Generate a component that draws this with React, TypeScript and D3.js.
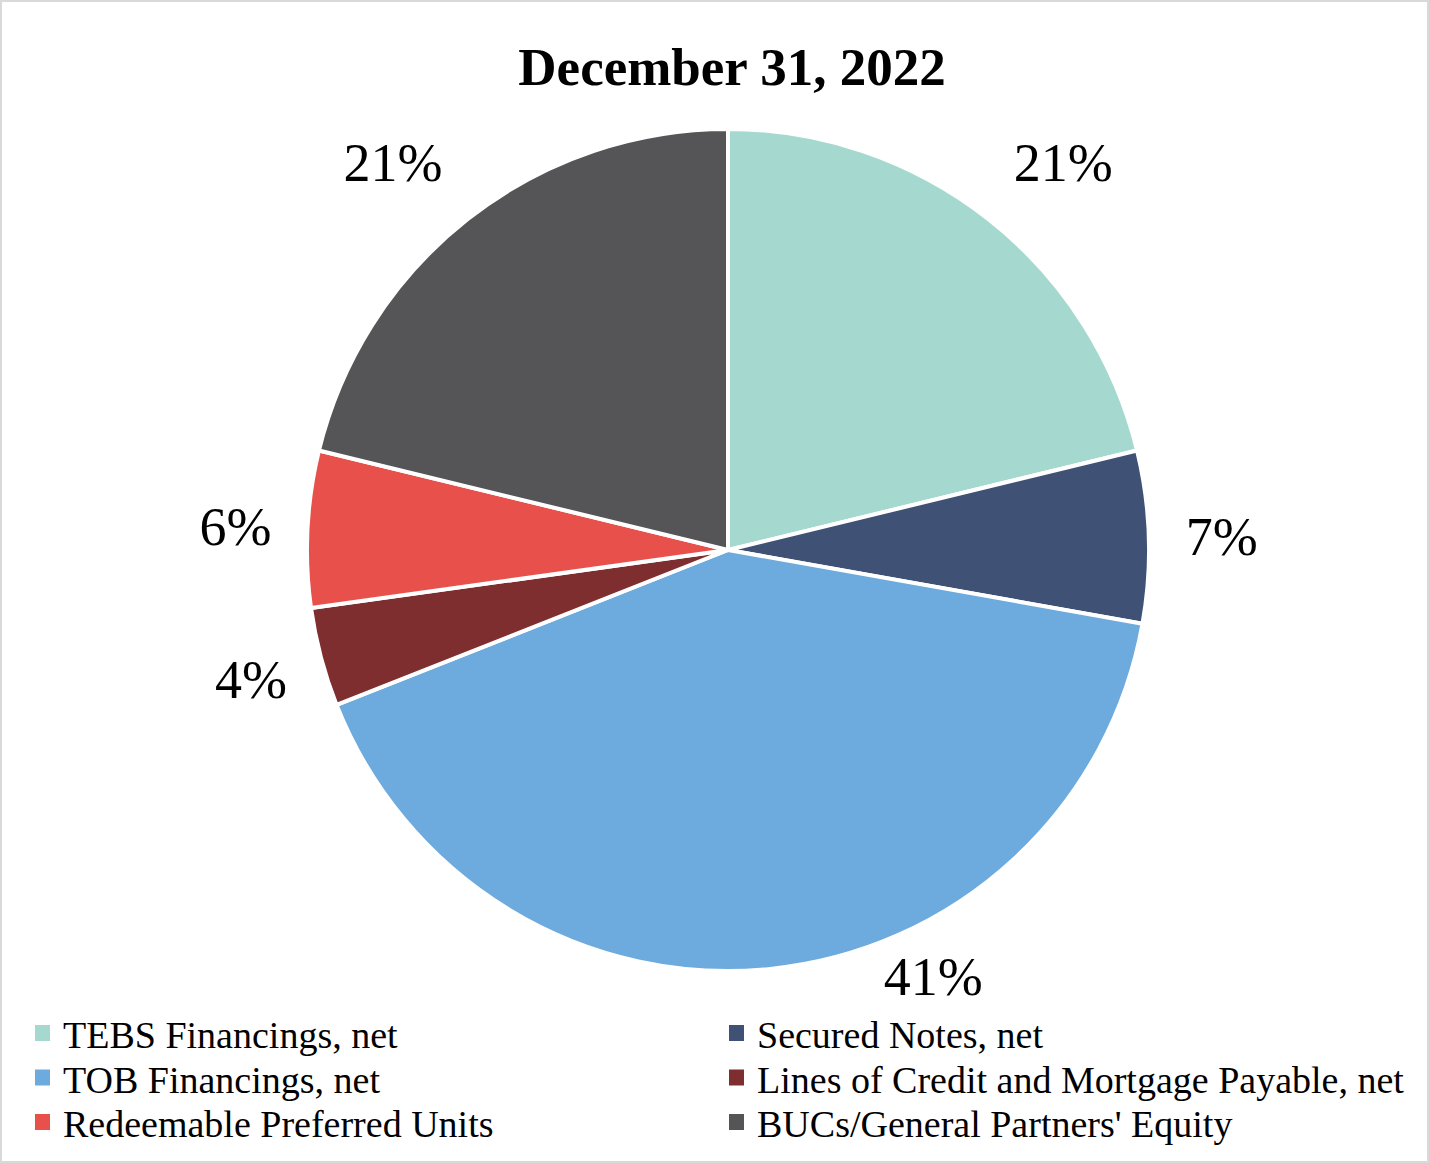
import React from "react";
import * as d3 from "d3";

const categories = [
  "TEBS Financings, net",
  "Secured Notes, net",
  "TOB Financings, net",
  "Lines of Credit and Mortgage Payable, net",
  "Redeemable Preferred Units",
  "BUCs/General Partners' Equity",
];
const values = [21.2, 6.6, 41.2, 3.8, 6.0, 21.2];
const percentLabels = ["21%", "7%", "41%", "4%", "6%", "21%"];
const colors = ["#a5d9cf", "#3f5275", "#6daadd", "#7f2e2f", "#e8504b", "#555557"];
// label nudges relative to outer-arc point at the slice's mid-angle (layout only)
const labelNudge: [number, number][] = [
  [75, -56],
  [73, 0],
  [163, 8],
  [-70, 23],
  [-72, -2],
  [-75, -56],
];
const legendOrder = [0, 1, 2, 3, 4, 5];

const W = 1429;
const H = 1163;
const cx = 728;
const cy = 550;
const R = 421;
const FONT = "'Liberation Serif', 'Times New Roman', serif";

export default function App() {
  const pie = d3
    .pie<number>()
    .sort(null)
    .value((d) => d)
    .startAngle(0)
    .endAngle(2 * Math.PI);
  const arcs = pie(values);
  const arcGen = d3.arc<d3.PieArcDatum<number>>().innerRadius(0).outerRadius(R);

  return (
    <svg
      width={W}
      height={H}
      style={{ position: "absolute", left: 0, top: 0, background: "#fff" }}
      fontFamily={FONT}
    >
      <rect x={1} y={1} width={W - 2} height={H - 2} fill="#fff" stroke="#d9d9d9" strokeWidth={2} />
      <text x={732} y={85} textAnchor="middle" fontSize={53} fontWeight="bold" fill="#000">
        December 31, 2022
      </text>
      <g transform={`translate(${cx},${cy})`}>
        {arcs.map((a, i) => (
          <path key={i} d={arcGen(a) || ""} fill={colors[i]} stroke="#fff" strokeWidth={4} strokeLinejoin="round" />
        ))}
        {arcs.map((a, i) => {
          const mid = (a.startAngle + a.endAngle) / 2;
          const px = R * Math.sin(mid) + labelNudge[i][0];
          const py = -R * Math.cos(mid) + labelNudge[i][1];
          return (
            <text key={i} x={px} y={py + 18} textAnchor="middle" fontSize={54} fill="#000">
              {percentLabels[i]}
            </text>
          );
        })}
      </g>
      <g>
        {legendOrder.map((idx, k) => {
          const col = k % 2;
          const row = Math.floor(k / 2);
          const sx = col === 0 ? 35 : 729;
          const base = 1048 + row * 44.5;
          return (
            <g key={idx}>
              <rect x={sx} y={base - 23} width={15} height={16} fill={colors[idx]} />
              <text x={sx + 28} y={base} fontSize={38} fill="#000">
                {categories[idx]}
              </text>
            </g>
          );
        })}
      </g>
    </svg>
  );
}
